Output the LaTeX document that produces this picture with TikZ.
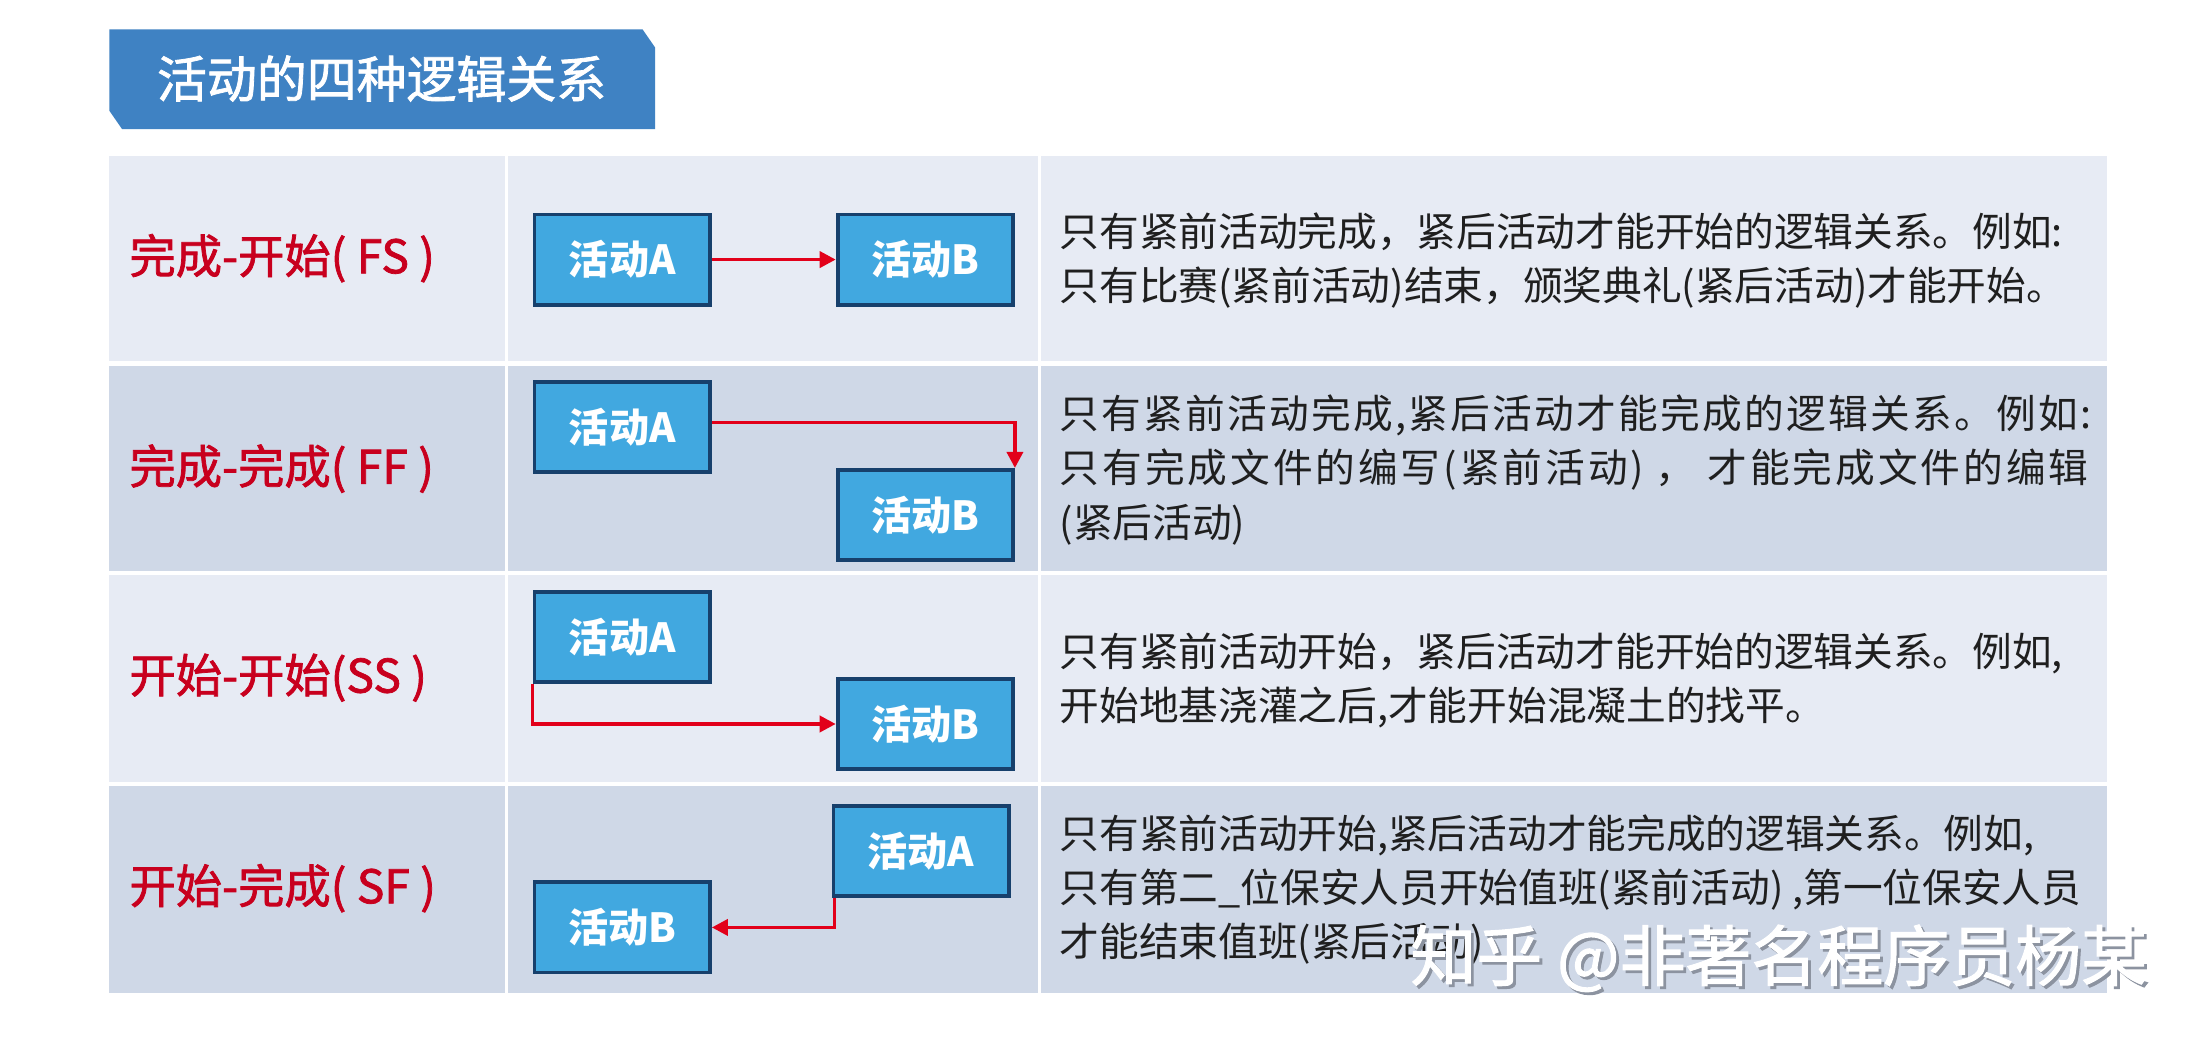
\documentclass[tikz,border=0pt]{standalone}
\usepackage{fontspec}
\setmainfont{Noto Sans CJK SC}
\newfontfamily\medcjk[FakeBold=1.6]{Noto Sans CJK SC}
\usetikzlibrary{arrows.meta}
\definecolor{rowlight}{HTML}{E7EBF4}
\definecolor{rowdark}{HTML}{CFD8E7}
\definecolor{boxfill}{HTML}{41A8E0}
\definecolor{boxline}{HTML}{17406C}
\definecolor{linkred}{HTML}{E2001A}
\definecolor{labelred}{HTML}{C8001E}
\definecolor{titleblue}{HTML}{3F82C3}
\definecolor{markshadow}{HTML}{8C93A0}
\tikzset{
  actbox/.style={draw=boxline,line width=1.9pt,fill=boxfill,text=white,minimum width=87.5pt,minimum height=45pt,inner sep=0pt,font=\fontsize{20}{24}\selectfont\bfseries},
  rowlabel/.style={anchor=west,inner sep=0pt,text=labelred,font=\medcjk\fontsize{23.1}{26}\selectfont},
  desc/.style={anchor=west,inner sep=0pt,align=left,text=black!88,font=\fontsize{19.8}{27}\selectfont},
  link/.style={draw=linkred,line width=1.8pt,-{Triangle[length=8pt,width=8pt]}},
  wm/.style={anchor=west,inner sep=0pt,font=\medcjk\fontsize{32.9}{40}\selectfont}
}
\begin{document}
\begin{tikzpicture}[x=0.7pt,y=-0.7pt]
\useasboundingbox (0,0) rectangle (1568,749);
\fill[white] (0,0) rectangle (1568,749);
% title
\fill[titleblue] (78,21) -- (458,21) -- (467,34) -- (467,92) -- (87,92) -- (78,79) -- cycle;
\node[inner sep=0pt,text=white,font=\medcjk\fontsize{24.9}{28}\selectfont] (title) at (272,56) {活动的四种逻辑关系};
% table cells
\foreach \ya/\yb/\c in {111/257/rowlight,261/407/rowdark,410/557/rowlight,560/708/rowdark}{
  \fill[\c] (78,\ya) rectangle (360,\yb);
  \fill[\c] (362,\ya) rectangle (740,\yb);
  \fill[\c] (742,\ya) rectangle (1502,\yb);
}
% row labels
\node[rowlabel] (l1) at (92,184) {完成-开始( FS )};
\node[rowlabel] (l2) at (92,334) {完成-完成( FF )};
\node[rowlabel] (l3) at (92,483) {开始-开始(SS )};
\node[rowlabel] (l4) at (92,633) {开始-完成( SF )};
% row 1
\node[actbox] (a1) at (443.5,185) {活动A};
\node[actbox] (b1) at (659.5,185) {活动B};
\draw[link] (a1.east) -- (b1.west);
% row 2
\node[actbox] (a2) at (443.5,304.5) {活动A};
\node[actbox] (b2) at (659.5,367) {活动B};
\draw[link] ([yshift=2.4pt]a2.east) -| (b2.north east);
% row 3
\node[actbox] (a3) at (443.5,454) {活动A};
\node[actbox] (b3) at (659.5,516) {活动B};
\draw[link] (a3.south west) |- (b3.west);
% row 4
\node[actbox] (a4) at (656.5,606.5) {活动A};
\node[actbox] (b4) at (443.5,661) {活动B};
\draw[link] ([xshift=1.4pt]a4.south west) |- (b4.east);
% descriptions
\node[desc] (d1) at (755,186) {只有紧前活动完成，紧后活动才能开始的逻辑关系。例如:\\只有比赛(紧前活动)结束，颁奖典礼(紧后活动)才能开始。};
\node[desc] (d2) at (755,335) {{\addfontfeatures{LetterSpace=5.8}只有紧前活动完成,紧后活动才能完成的逻辑关系。例如:}\\{\addfontfeatures{LetterSpace=7.5}只有完成文件的编写(紧前活动) ， 才能完成文件的编辑}\\(紧后活动)};
\node[desc] (d3) at (755,485) {只有紧前活动开始，紧后活动才能开始的逻辑关系。例如,\\开始地基浇灌之后,才能开始混凝土的找平。};
\node[desc] (d4) at (755,634) {只有紧前活动开始,紧后活动才能完成的逻辑关系。例如,\\只有第二\_位保安人员开始值班(紧前活动) ,第一位保安人员\\才能结束值班(紧后活动)};
% watermark
\node[wm,text=markshadow] (wms) at (1007,685) {知乎 @非著名程序员杨某};
\node[wm,text=white] (wmt) at (1005,683) {知乎 @非著名程序员杨某};
\end{tikzpicture}
\end{document}
